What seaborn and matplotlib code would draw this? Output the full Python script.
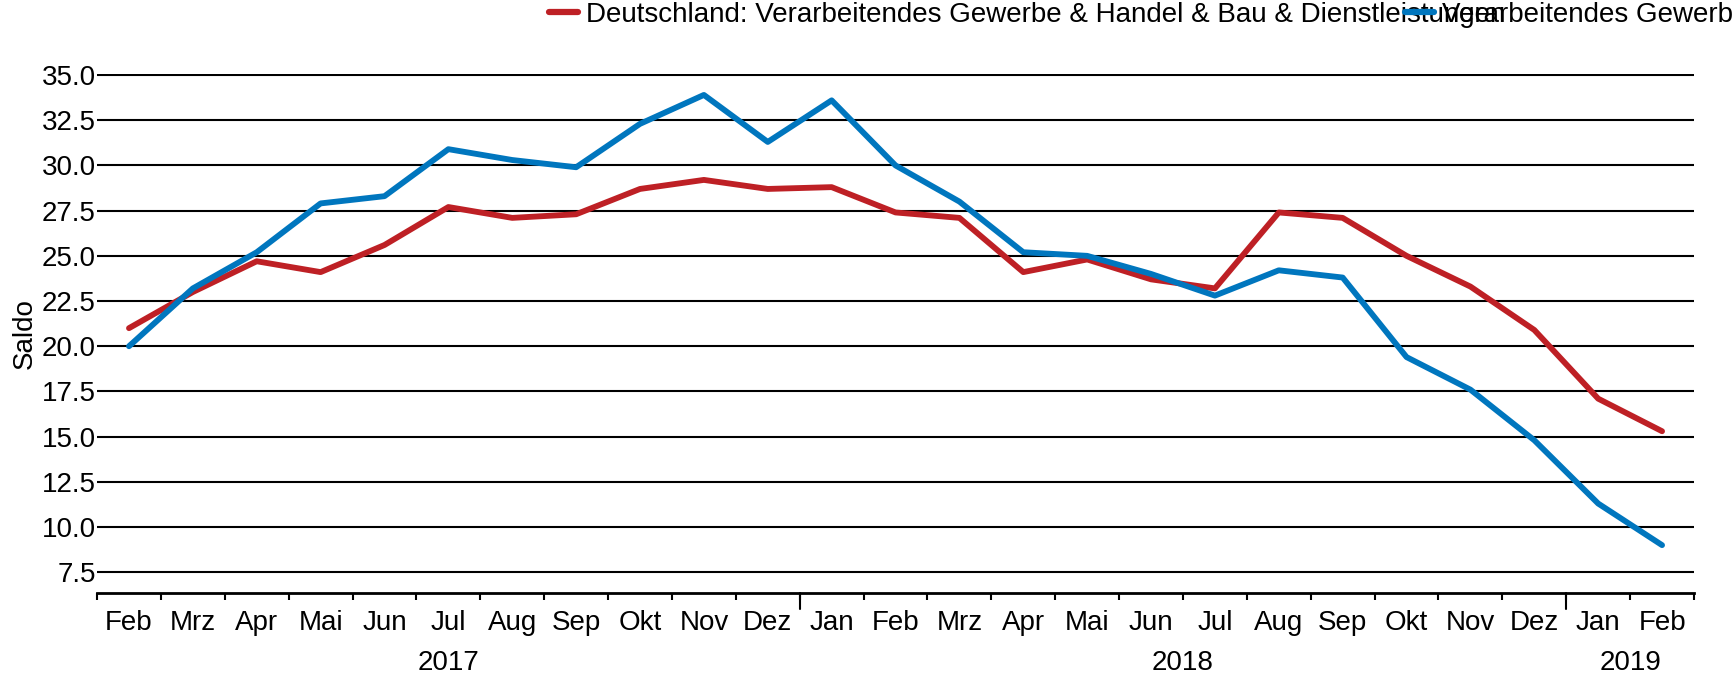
import numpy as np
import pandas as pd
import matplotlib
matplotlib.use("Agg")
import matplotlib.pyplot as plt
import seaborn as sns
from matplotlib.lines import Line2D

# --- data ---
months = ["Feb", "Mrz", "Apr", "Mai", "Jun", "Jul", "Aug", "Sep", "Okt", "Nov", "Dez",
          "Jan", "Feb", "Mrz", "Apr", "Mai", "Jun", "Jul", "Aug", "Sep", "Okt", "Nov", "Dez",
          "Jan", "Feb"]
years = ["2017", "2018", "2019"]
months_per_year = [11, 12, 2]

name_total = "Deutschland: Verarbeitendes Gewerbe & Handel & Bau & Dienstleistungen"
name_manuf = "Verarbeitendes Gewerbe"

total = [21.0, 23.0, 24.7, 24.1, 25.6, 27.7, 27.1, 27.3, 28.7, 29.2, 28.7,
         28.8, 27.4, 27.1, 24.1, 24.8, 23.7, 23.2, 27.4, 27.1, 25.0, 23.3, 20.9,
         17.1, 15.3]
manuf = [20.0, 23.2, 25.2, 27.9, 28.3, 30.9, 30.3, 29.9, 32.3, 33.9, 31.3,
         33.6, 30.0, 28.0, 25.2, 25.0, 24.0, 22.8, 24.2, 23.8, 19.4, 17.6, 14.8,
         11.3, 9.0]

colors = {name_total: "#be2025", name_manuf: "#0076be"}

df = pd.DataFrame({
    "idx": list(range(len(months))) * 2,
    "value": total + manuf,
    "series": [name_total] * len(total) + [name_manuf] * len(manuf),
})

sns.set_style("white")
plt.rcParams["font.family"] = ["Liberation Sans", "DejaVu Sans"]
plt.rcParams.update({"text.color": "black", "axes.labelcolor": "black",
                     "xtick.color": "black", "ytick.color": "black"})
FS = 20

fig = plt.figure(figsize=(17.33, 6.77), dpi=100)
ax = fig.add_axes([0.056, 0.124, 0.9215, 0.7665])

sns.lineplot(data=df, x="idx", y="value", hue="series",
             hue_order=[name_total, name_manuf], palette=colors,
             linewidth=4.2, legend=False, ax=ax, zorder=3)

# y axis: black gridlines, no spine
ax.set_ylim(6.35, 35.05)
yt = np.arange(7.5, 35.01, 2.5)
ax.set_yticks(yt)
ax.set_yticklabels([f"{v:.1f}" for v in yt], fontsize=FS)
ax.tick_params(axis="y", length=0, pad=1)
for v in yt:
    ax.axhline(v, color="black", lw=1.5, zorder=1)
ax.set_ylabel("Saldo", fontsize=FS, labelpad=3)

# x axis: month labels, boundary ticks, longer ticks at year change
ax.set_xlim(-0.5, len(months) - 0.5)
ax.set_xticks(range(len(months)))
ax.set_xticklabels(months, fontsize=FS)
ax.tick_params(axis="x", which="major", length=0, pad=12)
bounds = np.arange(-0.5, len(months), 1.0)
ax.set_xticks(bounds, minor=True)
ax.tick_params(axis="x", which="minor", bottom=True, length=5, width=1.5,
               color="black", direction="out")
ax.set_xlabel("")

ends = np.cumsum(months_per_year)
starts = ends - np.array(months_per_year)
for e in ends[:-1]:
    ax.plot([e - 0.5, e - 0.5], [0, -0.03], transform=ax.get_xaxis_transform(),
            color="black", lw=1.5, clip_on=False)
for y, s, e in zip(years, starts, ends):
    ax.annotate(y, xy=((s + e - 1) / 2, 0), xycoords=ax.get_xaxis_transform(),
                xytext=(0, -41), textcoords="offset points",
                ha="center", va="top", fontsize=FS)

for side in ["left", "right", "top"]:
    ax.spines[side].set_visible(False)
ax.spines["bottom"].set_color("black")
ax.spines["bottom"].set_linewidth(2)

# legend: two entries, the second one overlapping the long first label
leg_kw = dict(loc="upper left", frameon=False, fontsize=FS, borderpad=0,
              handlelength=1.05, handletextpad=0.3, borderaxespad=0)
h1 = Line2D([], [], color=colors[name_total], lw=4.5)
h2 = Line2D([], [], color=colors[name_manuf], lw=4.5)
fig.legend([h1], [name_total], bbox_to_anchor=(549 / 1733, 0.997), **leg_kw)
fig.legend([h2], [name_manuf], bbox_to_anchor=(1405 / 1733, 0.997), **leg_kw)

fig.savefig("out.png", dpi=100)
